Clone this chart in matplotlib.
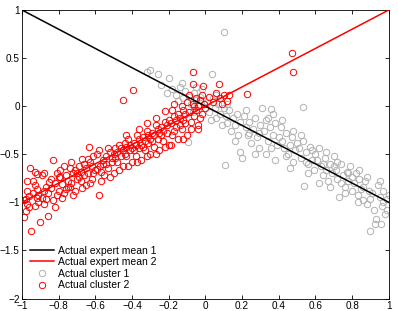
import matplotlib.pyplot as plt

# expert mean lines (endpoints)
mean_x = [-1, 1]
mean1_y = [1, -1]
mean2_y = [-1, 1]

# cluster 1 (grey) points
c1 = [
    (-0.32, 0.36), (-0.30, 0.38), (-0.26, 0.33), (-0.20, 0.29), (-0.21, 0.14), (-0.24, 0.22),
    (-0.18, 0.18), (-0.16, 0.12), (-0.14, 0.20), (-0.12, 0.08), (-0.15, 0.05), (-0.11, 0.16),
    (-0.095, -0.375), (-0.13, 0.24),
    (-0.09, 0.10), (-0.08, 0.02), (-0.06, 0.14), (-0.05, 0.06), (-0.04, -0.04), (-0.03, 0.10),
    (-0.02, 0.18), (-0.07, -0.06), (-0.01, 0.02), (-0.05, 0.20),
    (0.01, 0.04), (0.02, -0.06), (0.035, 0.33), (0.04, 0.08), (0.05, -0.02), (0.06, -0.12),
    (0.07, 0.02), (0.08, -0.08), (0.09, -0.20), (0.10, 0.77), (0.10, -0.02), (0.03, -0.14),
    (0.06, 0.12),
    (0.106, -0.61), (0.11, -0.10), (0.12, -0.18), (0.13, -0.04), (0.14, -0.26), (0.15, -0.12),
    (0.16, -0.20), (0.17, -0.08), (0.18, -0.30), (0.19, -0.48), (0.20, -0.54), (0.19, -0.16),
    (0.12, 0.02), (0.16, -0.36),
    (0.21, -0.10), (0.22, -0.22), (0.23, -0.30), (0.24, -0.16), (0.25, -0.38), (0.26, -0.24),
    (0.27, -0.12), (0.28, -0.32), (0.29, -0.44), (0.30, -0.20), (0.22, -0.04), (0.27, -0.50),
    (0.24, -0.28), (0.29, -0.28),
    (0.31, -0.02), (0.36, -0.03), (0.32, -0.26), (0.33, -0.14), (0.34, -0.36), (0.35, -0.22),
    (0.36, -0.44), (0.37, -0.30), (0.38, -0.18), (0.39, -0.40), (0.40, -0.32), (0.33, -0.50),
    (0.38, -0.56), (0.34, -0.12), (0.37, -0.08),
    (0.41, -0.22), (0.42, -0.36), (0.43, -0.44), (0.44, -0.28), (0.45, -0.50), (0.46, -0.40),
    (0.47, -0.32), (0.48, -0.58), (0.49, -0.46), (0.50, -0.38), (0.42, -0.14), (0.46, -0.64),
    (0.44, -0.52), (0.48, -0.26),
    (0.53, -0.01), (0.51, -0.44), (0.52, -0.54), (0.53, -0.36), (0.54, -0.83), (0.55, -0.48),
    (0.56, -0.60), (0.57, -0.42), (0.58, -0.56), (0.59, -0.66), (0.60, -0.50), (0.52, -0.30),
    (0.56, -0.70), (0.58, -0.46), (0.55, -0.58),
    (0.61, -0.56), (0.62, -0.44), (0.63, -0.62), (0.64, -0.72), (0.65, -0.54), (0.66, -0.66),
    (0.67, -0.78), (0.68, -0.60), (0.69, -0.70), (0.70, -0.52), (0.62, -0.80), (0.66, -0.48),
    (0.68, -0.84), (0.64, -0.60), (0.70, -0.62),
    (0.71, -0.66), (0.72, -0.76), (0.73, -0.94), (0.74, -0.60), (0.75, -0.72), (0.76, -0.84),
    (0.77, -0.68), (0.78, -0.78), (0.79, -0.62), (0.80, -0.88), (0.72, -0.58), (0.76, -0.90),
    (0.78, -0.70), (0.74, -0.80), (0.80, -0.74),
    (0.81, -0.80), (0.82, -0.70), (0.83, -0.92), (0.84, -0.76), (0.85, -0.86), (0.86, -0.98),
    (0.87, -0.78), (0.88, -1.02), (0.89, -0.88), (0.90, -0.96), (0.84, -0.66), (0.86, -0.84),
    (0.88, -0.74), (0.896, -1.30), (0.83, -1.00),
    (0.91, -0.90), (0.92, -1.08), (0.925, -1.23), (0.93, -1.17), (0.94, -0.82), (0.95, -0.94),
    (0.956, -1.22), (0.96, -1.04), (0.97, -0.88), (0.98, -1.12), (0.99, -0.96), (0.97, -1.00),
    (0.99, -1.08), (0.95, -0.78), (1.00, -0.92),
]

# cluster 2 (red) points
c2 = [
    (-0.99, -1.15), (-0.98, -1.09), (-0.99, -0.98), (-0.97, -1.02), (-0.96, -0.93), (-0.98, -0.96),
    (-0.95, -1.30), (-0.96, -1.05), (-0.97, -0.88), (-0.956, -0.64), (-0.92, -0.71), (-0.93, -0.68),
    (-0.97, -0.78),
    (-0.94, -0.78), (-0.93, -0.82), (-0.92, -0.95), (-0.91, -1.00), (-0.93, -1.04), (-0.90, -1.20),
    (-0.92, -0.86), (-0.94, -0.90), (-0.91, -0.92),
    (-0.89, -0.72), (-0.88, -0.70), (-0.87, -0.97), (-0.86, -1.14), (-0.88, -0.88), (-0.89, -0.95),
    (-0.87, -0.84), (-0.86, -0.90), (-0.85, -0.79), (-0.88, -1.02),
    (-0.83, -0.56), (-0.84, -0.85), (-0.82, -0.80), (-0.81, -0.92), (-0.83, -0.98), (-0.80, -0.74),
    (-0.84, -0.76), (-0.82, -1.05), (-0.81, -0.70), (-0.80, -0.88),
    (-0.79, -0.66), (-0.78, -0.81), (-0.77, -0.90), (-0.76, -0.72), (-0.78, -0.95), (-0.75, -0.78),
    (-0.77, -0.62), (-0.76, -0.86), (-0.79, -0.74), (-0.75, -0.84),
    (-0.74, -0.64), (-0.73, -0.80), (-0.72, -0.70), (-0.71, -0.88), (-0.70, -0.76), (-0.73, -0.58),
    (-0.72, -0.92), (-0.71, -0.66), (-0.74, -0.84), (-0.70, -0.69),
    (-0.69, -0.62), (-0.68, -0.78), (-0.67, -0.55), (-0.66, -0.72), (-0.65, -0.82), (-0.68, -0.68),
    (-0.67, -0.85), (-0.66, -0.60), (-0.69, -0.74), (-0.65, -0.64),
    (-0.635, -0.42), (-0.64, -0.70), (-0.63, -0.58), (-0.62, -0.76), (-0.61, -0.52), (-0.60, -0.66),
    (-0.63, -0.80), (-0.62, -0.62), (-0.61, -0.70), (-0.64, -0.55),
    (-0.59, -0.50), (-0.58, -0.92), (-0.575, -0.62), (-0.57, -0.68), (-0.56, -0.56), (-0.55, -0.72),
    (-0.58, -0.46), (-0.57, -0.78), (-0.56, -0.60), (-0.59, -0.65),
    (-0.54, -0.52), (-0.53, -0.64), (-0.52, -0.48), (-0.51, -0.58), (-0.50, -0.70), (-0.53, -0.44),
    (-0.52, -0.74), (-0.51, -0.54), (-0.54, -0.60), (-0.50, -0.50),
    (-0.49, -0.44), (-0.48, -0.58), (-0.47, -0.40), (-0.46, -0.52), (-0.45, -0.62), (-0.48, -0.48),
    (-0.47, -0.66), (-0.46, -0.44), (-0.49, -0.54), (-0.45, -0.46), (-0.45, 0.06),
    (-0.44, -0.38), (-0.43, -0.52), (-0.42, -0.34), (-0.41, -0.46), (-0.40, -0.58), (-0.43, -0.42),
    (-0.42, -0.62), (-0.41, -0.40), (-0.44, -0.50), (-0.40, -0.44), (-0.395, 0.17), (-0.43, -0.30),
    (-0.39, -0.38), (-0.38, -0.52), (-0.37, -0.30), (-0.36, -0.44), (-0.35, -0.56), (-0.38, -0.40),
    (-0.37, -0.58), (-0.36, -0.34), (-0.39, -0.46), (-0.35, -0.40), (-0.36, -0.24),
    (-0.34, -0.32), (-0.33, -0.46), (-0.32, -0.26), (-0.31, -0.38), (-0.30, -0.50), (-0.33, -0.36),
    (-0.32, -0.52), (-0.31, -0.30), (-0.34, -0.42), (-0.30, -0.34), (-0.32, -0.18),
    (-0.29, -0.28), (-0.28, -0.42), (-0.27, -0.20), (-0.26, -0.34), (-0.25, -0.46), (-0.28, -0.30),
    (-0.27, -0.50), (-0.26, -0.24), (-0.29, -0.36), (-0.25, -0.28), (-0.27, -0.12),
    (-0.24, -0.22), (-0.23, -0.36), (-0.22, -0.16), (-0.21, -0.28), (-0.20, -0.40), (-0.23, -0.26),
    (-0.22, -0.42), (-0.21, -0.20), (-0.24, -0.30), (-0.20, -0.14), (-0.22, -0.05),
    (-0.19, -0.18), (-0.18, -0.30), (-0.17, -0.10), (-0.16, -0.22), (-0.15, -0.34), (-0.18, -0.04),
    (-0.17, -0.26), (-0.16, -0.14), (-0.19, -0.40), (-0.15, -0.08), (-0.17, 0.02),
    (-0.14, -0.12), (-0.13, -0.24), (-0.12, -0.04), (-0.11, -0.18), (-0.10, -0.30), (-0.13, 0.00),
    (-0.12, -0.14), (-0.11, -0.08), (-0.14, -0.20), (-0.10, 0.04), (-0.12, -0.34),
    (-0.09, -0.06), (-0.08, -0.16), (-0.07, 0.02), (-0.07, 0.35), (-0.07, 0.23), (-0.06, -0.10),
    (-0.05, 0.08), (-0.08, -0.24), (-0.06, 0.00), (-0.09, 0.12), (-0.05, -0.04),
    (-0.04, -0.24), (-0.04, -0.20), (-0.03, 0.06), (-0.02, -0.08), (-0.014, 0.21), (-0.01, 0.02),
    (-0.03, -0.12), (-0.02, 0.12), (0.00, -0.02), (-0.04, 0.00),
    (0.02, 0.10), (0.04, 0.04), (0.074, 0.23), (0.06, 0.14), (0.08, 0.08), (0.10, 0.12),
    (0.117, 0.05), (0.13, 0.12), (0.226, 0.13), (0.09, 0.02),
    (0.471, 0.555), (0.477, 0.36),
]

xticks = [-1, -0.8, -0.6, -0.4, -0.2, 0, 0.2, 0.4, 0.6, 0.8, 1]
xlabels = ['\u22121', '\u22120.8', '\u22120.6', '\u22120.4', '\u22120.2', '0', '0.2', '0.4', '0.6', '0.8', '1']
yticks = [-2, -1.5, -1, -0.5, 0, 0.5, 1]
ylabels = ['\u22122', '\u22121.5', '\u22121', '\u22120.5', '0', '0.5', '1']

plt.rcParams['font.family'] = ['Liberation Sans', 'DejaVu Sans']

fig = plt.figure(figsize=(3.98, 3.11), dpi=100)
ax = fig.add_axes([0.055, 0.04, 0.922, 0.928])

ax.plot(mean_x, mean1_y, color='black', lw=1.1, label='Actual expert mean 1', zorder=3)
ax.plot(mean_x, mean2_y, color='red', lw=1.1, label='Actual expert mean 2', zorder=3)
ax.plot([p[0] for p in c1], [p[1] for p in c1], 'o', mfc='none', mec='#b0b0b0', ms=4.6,
        mew=0.7, label='Actual cluster 1')
ax.plot([p[0] for p in c2], [p[1] for p in c2], 'o', mfc='none', mec='red', ms=4.6,
        mew=0.7, label='Actual cluster 2')

ax.set_xlim(-1, 1)
ax.set_ylim(-2, 1)
ax.set_xticks(xticks)
ax.set_xticklabels(xlabels)
ax.set_yticks(yticks)
ax.set_yticklabels(ylabels)
ax.tick_params(direction='in', top=True, right=True, labelsize=7.2, length=3, width=0.6, pad=1.5)
for s in ax.spines.values():
    s.set_linewidth(0.6)

ax.legend(loc='lower left', frameon=False, fontsize=7.5, handlelength=2.3,
          labelspacing=0.15, borderaxespad=0.4, handletextpad=0.4)

fig.savefig('out.png', dpi=100)
